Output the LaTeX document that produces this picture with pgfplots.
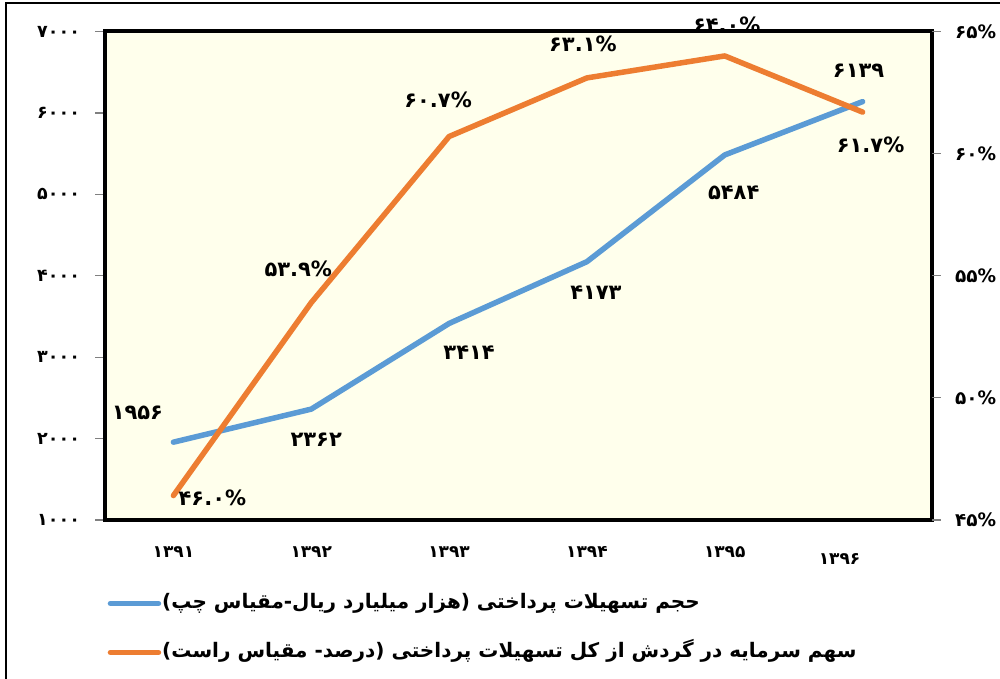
\documentclass[border=0pt]{standalone}
\usepackage{fontspec}
\usepackage{pgfplots}
\pgfplotsset{compat=1.18}
\TeXXeTstate=1
\newfontfamily\fa[Script=Arabic]{DejaVu Sans}
\definecolor{cblue}{HTML}{5B9BD5}
\definecolor{corange}{HTML}{ED7D31}
\definecolor{bgy}{RGB}{255,255,236}
\pgfplotstableread{
x y
0 1956
1 2362
2 3414
3 4173
4 5484
5 6139
}\volume
\pgfplotstableread{
x y
0 46.0
1 53.9
2 60.7
3 63.1
4 64.0
5 61.7
}\share
\tikzset{lbl/.style={font=\fa\bfseries\fontsize{21}{24}\selectfont, inner sep=0pt}}
\begin{document}
\begin{tikzpicture}[x=1pt,y=1pt]
\useasboundingbox (0,0) rectangle (1000,678);
\draw[line width=2.5pt] (6,-20) -- (6,675) -- (1020,675);
\begin{axis}[
  at={(104.5pt,158pt)}, anchor=south west,
  scale only axis, width=827pt, height=488.5pt,
  xmin=-0.5, xmax=5.5, ymin=1000, ymax=7000,
  clip=false,
  axis background/.style={fill=bgy},
  axis line style={line width=4pt, black},
  xtick={0,...,5},
  xticklabels={۱۳۹۱,۱۳۹۲,۱۳۹۳,۱۳۹۴,۱۳۹۵,{\raisebox{-7pt}[\height][\depth]{۱۳۹۶}\hspace*{46pt}}},
  xtick style={draw=none},
  xticklabel style={font=\fa\bfseries\fontsize{17}{20}\selectfont, yshift=-14pt},
  ytick={1000,2000,3000,4000,5000,6000,7000},
  yticklabels={۱۰۰۰,۲۰۰۰,۳۰۰۰,۴۰۰۰,۵۰۰۰,۶۰۰۰,۷۰۰۰},
  ytick pos=left, tick align=outside, major tick length=9pt,
  ytick style={gray, line width=1.2pt},
  yticklabel style={font=\fa\bfseries\fontsize{17.5}{20}\selectfont, xshift=-12pt},
  legend style={at={(axis description cs:0.0,-0.2211)}, anchor=west, draw=none, fill=none,
    font=\fa\bfseries\fontsize{20}{24}\selectfont, row sep=25pt,
    nodes={inner sep=1pt, text height=16pt, text depth=6pt},
    /tikz/every even column/.append style={column sep=0pt}},
  legend cell align=left,
  legend image code/.code={\draw[#1] (0pt,0pt) -- (48pt,0pt);},
]
\addplot[cblue, line width=5.5pt, line cap=round, line join=round] table[x=x,y=y] {\volume};
\addlegendentry{\beginR حجم تسهیلات پرداختی (هزار میلیارد ریال-مقیاس چپ)\endR}
\addlegendimage{corange, line width=5.5pt, line cap=round}
\addlegendentry{\beginR سهم سرمایه در گردش از کل تسهیلات پرداختی (درصد- مقیاس راست)\endR}
\node[lbl] at (axis cs:0,1956) [xshift=-36pt, yshift=29pt] {۱۹۵۶};
\node[lbl] at (axis cs:1,2362) [xshift=5pt, yshift=-31pt] {۲۳۶۲};
\node[lbl] at (axis cs:2,3414) [xshift=20pt, yshift=-29pt] {۳۴۱۴};
\node[lbl] at (axis cs:3,4173) [xshift=9pt, yshift=-31pt] {۴۱۷۳};
\node[lbl] at (axis cs:4,5484) [xshift=9pt, yshift=-38pt] {۵۴۸۴};
\node[lbl] at (axis cs:5,6139) [xshift=-4pt, yshift=31pt] {۶۱۳۹};
\end{axis}
\begin{axis}[
  at={(104.5pt,158pt)}, anchor=south west,
  scale only axis, width=827pt, height=488.5pt,
  xmin=-0.5, xmax=5.5, ymin=45, ymax=65,
  clip=false,
  axis y line*=right, axis x line=none,
  y axis line style={draw=none},
  ytick={45,50,55,60,65},
  yticklabels={۴۵\%,۵۰\%,۵۵\%,۶۰\%,۶۵\%},
  tick align=outside, major tick length=9pt,
  ytick style={gray, line width=1.2pt},
  yticklabel style={font=\fa\bfseries\fontsize{18.5}{22}\selectfont, xshift=11pt},
]
\addplot[corange, line width=5.5pt, line cap=round, line join=round] table[x=x,y=y] {\share};
\node[lbl] at (axis cs:0,46.0) [xshift=39pt, yshift=-2pt] {۴۶.۰\%};
\node[lbl] at (axis cs:1,53.9) [xshift=-13pt, yshift=34pt] {۵۳.۹\%};
\node[lbl] at (axis cs:2,60.7) [xshift=-11pt, yshift=37pt] {۶۰.۷\%};
\node[lbl] at (axis cs:3,63.1) [xshift=-4pt, yshift=34pt] {۶۳.۱\%};
\node[lbl] at (axis cs:4,64.0) [xshift=2pt, yshift=31pt] {۶۴.۰\%};
\node[lbl] at (axis cs:5,61.7) [xshift=8pt, yshift=-33pt] {۶۱.۷\%};
\end{axis}
\end{tikzpicture}
\end{document}
